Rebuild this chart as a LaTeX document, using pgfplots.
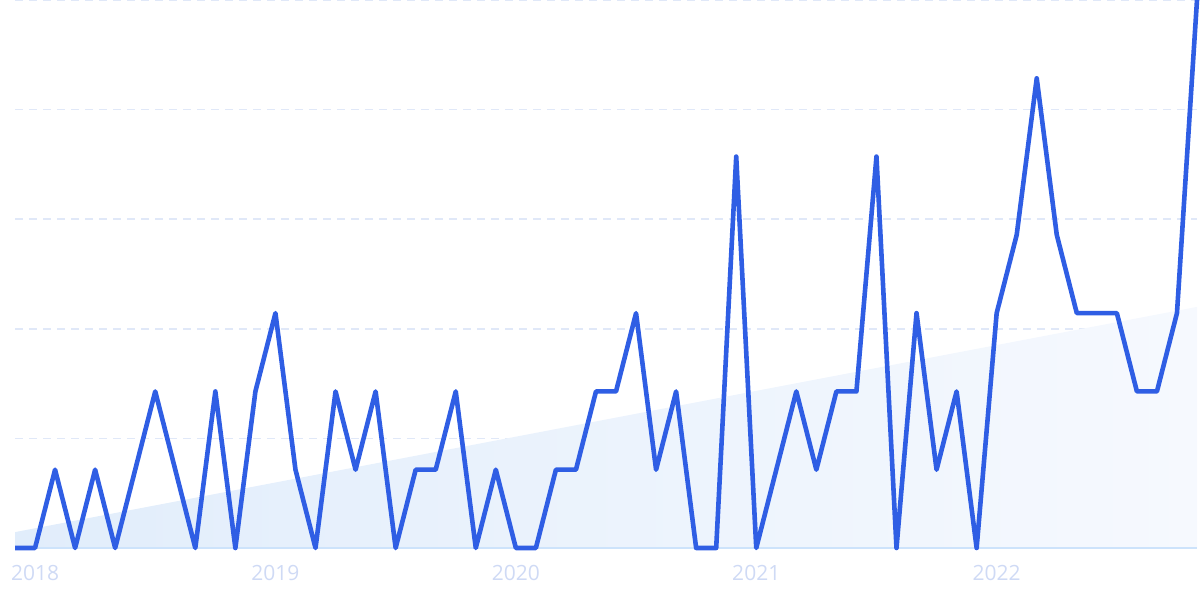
\documentclass[border=0pt]{standalone}
\usepackage{pgfplots}
\pgfplotsset{compat=1.18}
\usepackage{fontspec}
\setmainfont{Open Sans}
\definecolor{linec}{HTML}{2F5EE4}
\definecolor{gridc}{HTML}{E0E8F8}
\definecolor{labc}{HTML}{CFDAF5}
\definecolor{basec}{HTML}{CDE3FB}
\definecolor{trendL}{HTML}{E1EDFB}
\definecolor{trendR}{HTML}{F6F9FE}
\begin{document}
\begin{tikzpicture}
\path[use as bounding box] (-7.5pt,-26pt) rectangle (592.5pt,274pt);
\begin{axis}[
  at={(0pt,0pt)}, anchor=south west,
  scale only axis, width=591pt, height=274pt,
  xmin=0, xmax=59, ymin=0, ymax=100,
  axis line style={draw=none},
  xtick={1,13,25,37,49},
  xticklabels={2018,2019,2020,2021,2022},
  xtick style={draw=none},
  x tick label style={text=labc, font=\fontsize{10.5}{12}\selectfont, yshift=-5pt},
  ytick={20,40,60,80,100},
  yticklabels={},
  ytick style={draw=none},
  ymajorgrids,
  grid style={gridc, line width=0.7pt, dash pattern=on 4pt off 3pt},
  clip=false,
]
\addplot[draw=none, left color=trendL, right color=trendR] coordinates {(0,0) (0,2.9) (59,44) (59,0)} -- cycle;
\draw[basec, line width=0.6pt] (axis cs:0,0) -- (axis cs:59,0);
\addplot[linec, line width=2.3pt, line join=round, mark=none] coordinates {
(0,0) (1,0) (2,14.29) (3,0) (4,14.29) (5,0) (6,14.29) (7,28.57) (8,14.29) (9,0)
(10,28.57) (11,0) (12,28.57) (13,42.86) (14,14.29) (15,0) (16,28.57) (17,14.29) (18,28.57) (19,0)
(20,14.29) (21,14.29) (22,28.57) (23,0) (24,14.29) (25,0) (26,0) (27,14.29) (28,14.29) (29,28.57)
(30,28.57) (31,42.86) (32,14.29) (33,28.57) (34,0) (35,0) (36,71.43) (37,0) (38,14.29) (39,28.57)
(40,14.29) (41,28.57) (42,28.57) (43,71.43) (44,0) (45,42.86) (46,14.29) (47,28.57) (48,0) (49,42.86)
(50,57.14) (51,85.71) (52,57.14) (53,42.86) (54,42.86) (55,42.86) (56,28.57) (57,28.57) (58,42.86) (59,100)
};
\end{axis}
\end{tikzpicture}
\end{document}
